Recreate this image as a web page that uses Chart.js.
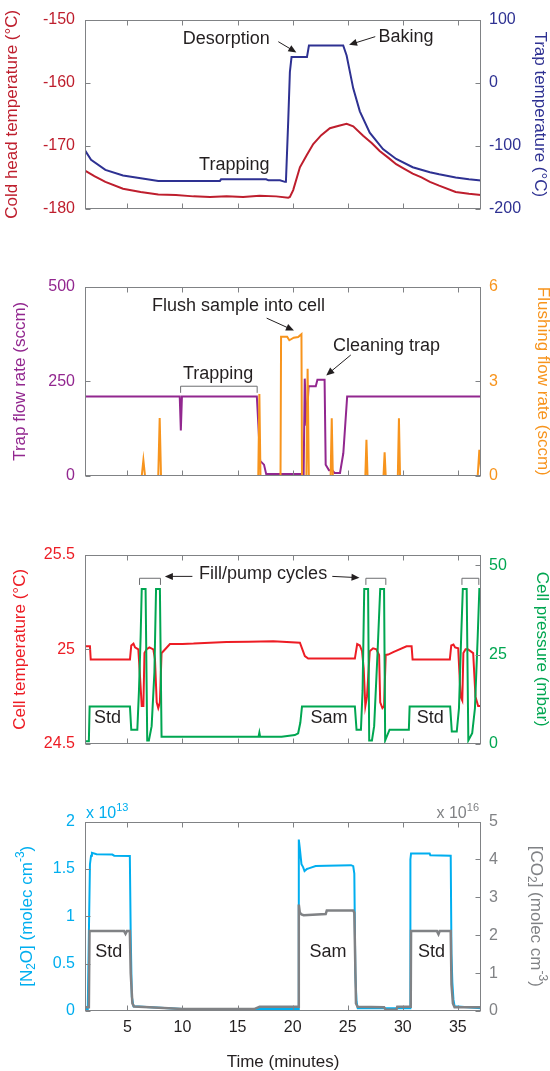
<!DOCTYPE html>
<html>
<head>
<meta charset="utf-8">
<script src="https://cdn.jsdelivr.net/npm/chart.js@4.4.1/dist/chart.umd.min.js"></script>
<style>
  body { margin: 0; background: #fff; width: 550px; height: 1071px; overflow: hidden; position: relative; }
  canvas { position: absolute; left: 0; }
</style>
</head>
<body>
<canvas id="p1" width="550" height="267" style="top:0px"></canvas>
<canvas id="p2" width="550" height="267" style="top:267px"></canvas>
<canvas id="p3" width="550" height="267" style="top:535px"></canvas>
<canvas id="p4" width="550" height="269" style="top:802px"></canvas>
<script>
const FONT = "'Liberation Sans', Arial, Helvetica, sans-serif";
const xMin = 1.15, xMax = 37.1;
const xTicks = [5, 10, 15, 20, 25, 30, 35];

// panel 1: cold head (left axis) and trap temperature (right axis)
const coldHeadT = [1.15, 2.0, 3.0, 4.6, 6.2, 7.8, 9.4, 11.0, 12.5, 14.0, 15.5, 17.0, 18.5, 19.6, 19.75, 20.05, 20.66, 21.3, 21.87, 22.6, 23.38, 24.2, 24.9, 25.5, 26.4, 27.2, 27.9, 28.7, 29.4, 30.1, 30.9, 31.7, 32.46, 33.3, 34.8, 36.0, 37.1];
const coldHeadV = [-173.9, -174.8, -175.7, -176.8, -177.3, -177.7, -177.8, -178.0, -178.1, -178.0, -178.1, -177.9, -178.0, -178.2, -178.1, -177.0, -173.4, -171.4, -169.7, -168.3, -167.2, -166.8, -166.5, -166.9, -168.4, -169.6, -170.8, -171.9, -172.9, -173.6, -174.4, -175.0, -175.7, -176.3, -177.3, -177.6, -177.8];
const trapTempT = [1.15, 1.7, 3.0, 4.6, 6.8, 7.8, 13.4, 13.5, 17.6, 17.8, 18.85, 19.3, 19.39, 19.6, 19.75, 19.9, 21.3, 21.48, 24.59, 24.9, 25.5, 26.1, 27.0, 28.2, 29.4, 30.9, 32.46, 33.3, 34.8, 36.0, 37.1];
const trapTempV = [-107, -122, -138, -147, -153, -155.5, -155.5, -153, -153, -154.6, -154.6, -157, -157, -60, 17, 40.6, 40.6, 58.9, 58.9, 43.2, -8.9, -45.3, -79.2, -105, -120.8, -133.9, -141.7, -145, -150, -153, -155];

// panel 2: trap flow (left) and flushing flow (right)
const trapFlowT = [1.15, 9.75, 9.85, 9.95, 16.75, 16.95, 17.05, 17.4, 17.6, 21.0, 21.1, 21.25, 21.45, 22.1, 22.25, 22.9, 23.0, 23.3, 23.6, 23.8, 24.3, 24.6, 24.95, 37.1];
const trapFlowV = [210, 210, 120, 210, 210, 100, 40, 30, 5, 5, 257, 133, 237, 237, 254, 254, 30, 15, 15, 8, 8, 60, 210, 210];
const flushT = [1.15, 6.3, 6.45, 6.6, 7.8, 7.93, 8.05, 16.88, 16.98, 17.08, 18.9, 18.95, 19.5, 19.7, 20.1, 20.5, 20.8, 20.85, 21.25, 21.36, 21.47, 23.45, 23.55, 23.65, 26.6, 26.7, 26.8, 28.25, 28.35, 28.45, 29.55, 29.65, 29.75, 36.8, 36.95, 37.1];
const flushV = [0, 0, 0.5, 0, 0, 1.84, 0, 0, 2.6, 0, 0, 4.41, 4.41, 4.3, 4.38, 4.4, 4.49, 0, 0, 3.4, 0, 0, 1.83, 0, 0, 1.15, 0, 0, 0.75, 0, 0, 1.83, 0, 0, 0.83, 0.2];

// panel 3: cell temperature (left) and cell pressure (right)
const cellTempT = [1.15, 1.6, 1.67, 5.23, 5.35, 5.55, 5.69, 5.99, 6.1, 6.3, 6.45, 6.55, 6.75, 7.0, 7.35, 7.5, 7.66, 7.8, 7.95, 8.1, 8.26, 8.86, 10, 11, 12.5, 14, 16, 18.24, 20.66, 21.11, 21.41, 25.65, 25.86, 26.1, 26.3, 26.45, 26.6, 26.75, 27.0, 27.3, 27.6, 27.85, 27.95, 28.15, 28.3, 28.45, 28.67, 29.13, 30.34, 30.8, 30.89, 34.27, 34.4, 34.6, 34.75, 35.03, 35.25, 35.4, 35.5, 35.7, 35.9, 36.39, 36.6, 36.84, 37.1];
const cellTempV = [25.016, 25.016, 24.946, 24.946, 25.02, 25.03, 25.01, 25.0, 24.9, 24.7, 24.7, 24.98, 25.0, 25.01, 25.0, 24.95, 24.72, 24.69, 24.72, 24.98, 24.99, 25.028, 25.028, 25.03, 25.035, 25.038, 25.04, 25.042, 25.035, 24.964, 24.951, 24.951, 25.028, 25.02, 24.99, 24.9, 24.7, 24.75, 24.99, 25.005, 25.0, 24.97, 24.72, 24.69, 24.7, 24.97, 24.972, 24.985, 25.016, 25.016, 24.946, 24.946, 25.02, 25.025, 25.01, 25.005, 24.75, 24.73, 24.98, 25.0, 25.0, 24.98, 24.75, 24.7, 24.7];
const cellPresT = [1.15, 1.5, 1.57, 5.23, 5.35, 5.8, 5.9, 6.05, 6.2, 6.3, 6.65, 6.8, 6.95, 7.2, 7.45, 7.6, 7.95, 8.1, 16.9, 16.98, 17.05, 19.0, 20.2, 20.5, 20.7, 20.85, 25.65, 25.8, 26.2, 26.35, 26.5, 26.85, 26.95, 27.2, 27.4, 27.7, 27.95, 28.3, 28.4, 28.8, 30.55, 30.62, 34.3, 34.45, 34.9, 35.1, 35.3, 35.45, 35.8, 35.95, 36.3, 36.55, 36.8, 36.95, 37.1];
const cellPresV = [0.8, 0.8, 10.5, 10.5, 4, 4, 4, 15, 30, 43.4, 43.4, 1, 1, 5, 20, 43.4, 43.4, 2, 2, 3.2, 2, 2, 2.5, 3, 6, 10.5, 10.5, 4, 4, 15, 43.4, 43.4, 1, 1, 5, 25, 43.4, 43.4, 1, 4, 4, 10.5, 10.5, 3.5, 3.5, 10, 30, 43.4, 43.4, 1, 3, 10, 30, 43.4, 43.4];

// panel 4: N2O (left, x1e13) and CO2 (right, x1e16)
const n2oT = [1.15, 1.4, 1.5, 1.6, 1.7, 1.78, 2.2, 3.63, 3.8, 5.22, 5.3, 5.4, 5.55, 10, 20.5, 20.56, 20.65, 20.8, 20.95, 21.08, 21.3, 21.46, 22.09, 23.05, 25.3, 25.5, 25.6, 25.69, 25.8, 25.91, 30.66, 30.69, 30.75, 32.44, 32.5, 34.35, 34.42, 34.5, 34.6, 34.7, 37.1];
const n2oV = [0.02, 0.02, 0.8, 1.55, 1.64, 1.67, 1.655, 1.652, 1.64, 1.638, 0.8, 0.15, 0.05, 0.02, 0.02, 1.81, 1.72, 1.55, 1.52, 1.478, 1.5, 1.506, 1.53, 1.535, 1.54, 1.53, 1.45, 0.4, 0.1, 0.03, 0.03, 1.6, 1.663, 1.663, 1.645, 1.64, 0.6, 0.3, 0.12, 0.05, 0.03];
const co2T = [1.15, 1.5, 1.56, 4.7, 4.83, 4.95, 5.22, 5.3, 5.45, 5.6, 7, 10, 16.5, 17, 20.5, 20.56, 20.65, 20.8, 21, 23.0, 23.1, 25.5, 25.6, 25.75, 25.9, 28.3, 28.46, 29.42, 29.5, 30.72, 30.75, 33.1, 33.24, 33.35, 34.35, 34.42, 34.55, 34.7, 37.1];
const co2V = [0.1, 0.1, 2.11, 2.11, 2.04, 2.11, 2.11, 1.0, 0.2, 0.12, 0.1, 0.05, 0.05, 0.11, 0.11, 2.81, 2.6, 2.55, 2.53, 2.56, 2.65, 2.65, 2.6, 0.2, 0.11, 0.1, 0.03, 0.03, 0.11, 0.11, 2.11, 2.11, 2.03, 2.11, 2.11, 0.7, 0.2, 0.1, 0.1];

const BOX = '#808285';
const INK = '#231f20';
const TICK_SIZE = 16, TITLE_SIZE = 17, NOTE_SIZE = 18;

function pts(ts, vs) { return ts.map((t, i) => ({ x: t, y: vs[i] })); }

function drawRich(ctx, segs, cx, cy, rot, color, size, align) {
  ctx.save();
  ctx.translate(cx, cy);
  ctx.rotate(rot);
  ctx.fillStyle = color;
  ctx.textBaseline = 'middle';
  ctx.textAlign = 'left';
  const small = Math.round(size * 0.68);
  let w = 0;
  const parts = segs.map(s => {
    const f = ((s.sub || s.sup) ? small : size) + 'px ' + FONT;
    ctx.font = f;
    const mw = ctx.measureText(s.t).width;
    w += mw;
    return { s, f, mw };
  });
  let x = align === 'left' ? 0 : align === 'right' ? -w : -w / 2;
  parts.forEach(p => {
    ctx.font = p.f;
    const dy = p.s.sub ? size * 0.3 : p.s.sup ? -size * 0.38 : 0;
    ctx.fillText(p.s.t, x, dy);
    x += p.mw;
  });
  ctx.restore();
}

function arrow(ctx, x1, y1, x2, y2) {
  const a = Math.atan2(y2 - y1, x2 - x1);
  const L = 8, W = 3.5;
  ctx.beginPath();
  ctx.moveTo(x1, y1);
  ctx.lineTo(x2 - Math.cos(a) * L * 0.8, y2 - Math.sin(a) * L * 0.8);
  ctx.stroke();
  ctx.beginPath();
  ctx.moveTo(x2, y2);
  ctx.lineTo(x2 - Math.cos(a) * L + Math.sin(a) * W, y2 - Math.sin(a) * L - Math.cos(a) * W);
  ctx.lineTo(x2 - Math.cos(a) * L - Math.sin(a) * W, y2 - Math.sin(a) * L + Math.cos(a) * W);
  ctx.closePath();
  ctx.fill();
}

function drawDeco(chart, cfg) {
  const { ctx, chartArea: a, scales } = chart;
  const x = scales.x, yl = scales.yL, yr = scales.yR;
  ctx.save();
  // box and inward ticks
  ctx.strokeStyle = BOX;
  ctx.lineWidth = 1;
  const L = Math.round(a.left) + 0.5, R = Math.round(a.right) - 0.5;
  const T = Math.round(a.top) + 0.5, B = Math.round(a.bottom) - 0.5;
  ctx.strokeRect(L, T, R - L, B - T);
  ctx.beginPath();
  xTicks.forEach(v => {
    const px = Math.round(x.getPixelForValue(v)) + 0.5;
    ctx.moveTo(px, B); ctx.lineTo(px, B - 5);
    ctx.moveTo(px, T); ctx.lineTo(px, T + 5);
  });
  yl.ticks.forEach(tk => {
    const py = Math.round(yl.getPixelForValue(tk.value)) + 0.5;
    ctx.moveTo(L, py); ctx.lineTo(L + 5, py);
  });
  yr.ticks.forEach(tk => {
    const py = Math.round(yr.getPixelForValue(tk.value)) + 0.5;
    ctx.moveTo(R, py); ctx.lineTo(R - 5, py);
  });
  ctx.stroke();

  // axis titles
  const midY = (a.top + a.bottom) / 2;
  drawRich(ctx, cfg.leftTitle.segs, cfg.leftTitle.x, midY, -Math.PI / 2, cfg.leftColor, TITLE_SIZE);
  drawRich(ctx, cfg.rightTitle.segs, cfg.rightTitle.x, midY, Math.PI / 2, cfg.rightColor, TITLE_SIZE);

  // multipliers
  (cfg.multipliers || []).forEach(m => {
    drawRich(ctx, [{ t: 'x 10' }, { t: m.exp, sup: true }], m.x, a.top - 8, 0, m.color, 16, m.align);
  });

  // brackets
  ctx.strokeStyle = '#6d6e71';
  ctx.lineWidth = 1;
  (cfg.brackets || []).forEach(b => {
    const x1 = x.getPixelForValue(b.t1), x2 = x.getPixelForValue(b.t2);
    const y0 = yl.getPixelForValue(b.v), y1 = yl.getPixelForValue(b.vEnd);
    ctx.beginPath();
    ctx.moveTo(x1, y1); ctx.lineTo(x1, y0); ctx.lineTo(x2, y0); ctx.lineTo(x2, y1);
    ctx.stroke();
  });

  // arrows
  ctx.strokeStyle = INK;
  ctx.fillStyle = INK;
  (cfg.arrows || []).forEach(ar => {
    arrow(ctx, x.getPixelForValue(ar.from[0]), yl.getPixelForValue(ar.from[1]),
      x.getPixelForValue(ar.to[0]), yl.getPixelForValue(ar.to[1]));
  });

  // labels
  (cfg.labels || []).forEach(lb => {
    drawRich(ctx, [{ t: lb.text }], x.getPixelForValue(lb.t), yl.getPixelForValue(lb.v), 0, INK, NOTE_SIZE);
  });
  ctx.restore();
}

function makePanel(id, cfg) {
  return new Chart(document.getElementById(id), {
    type: 'line',
    data: { datasets: cfg.datasets },
    options: {
      responsive: false,
      animation: false,
      layout: { padding: { top: 17, left: 0, right: 0, bottom: 0 } },
      plugins: { legend: { display: false }, tooltip: { enabled: false } },
      elements: { point: { radius: 0 }, line: { borderWidth: 2, tension: 0 } },
      scales: {
        x: {
          type: 'linear', min: xMin, max: xMax,
          afterBuildTicks: s => { s.ticks = xTicks.map(v => ({ value: v })); },
          grid: { display: false, drawTicks: false },
          border: { display: false },
          ticks: { display: cfg.xLabels, color: INK, font: { family: FONT, size: TICK_SIZE }, padding: 7 },
          title: {
            display: cfg.xLabels, text: 'Time (minutes)', color: INK,
            font: { family: FONT, size: TITLE_SIZE, lineHeight: 1 }, padding: { top: 0, bottom: 0 }
          },
          afterFit: s => { s.height = cfg.bottom; }
        },
        yL: {
          position: 'left', min: cfg.leftMin, max: cfg.leftMax,
          afterBuildTicks: s => { s.ticks = cfg.leftTicks.map(v => ({ value: v })); },
          grid: { display: false, drawTicks: false },
          border: { display: false },
          ticks: { color: cfg.leftColor, font: { family: FONT, size: TICK_SIZE }, padding: 10, callback: v => String(v) },
          afterFit: s => { s.width = 85; }
        },
        yR: {
          position: 'right', min: cfg.rightMin, max: cfg.rightMax,
          afterBuildTicks: s => { s.ticks = cfg.rightTicks.map(v => ({ value: v })); },
          grid: { display: false, drawTicks: false },
          border: { display: false },
          ticks: { color: cfg.rightColor, font: { family: FONT, size: TICK_SIZE }, padding: 8, callback: v => String(v) },
          afterFit: s => { s.width = 69; }
        }
      }
    },
    plugins: [{ id: 'deco', afterDraw: ch => drawDeco(ch, cfg) }]
  });
}

// Panel 1
makePanel('p1', {
  datasets: [
    { data: pts(trapTempT, trapTempV), yAxisID: 'yR', borderColor: '#2e3192' },
    { data: pts(coldHeadT, coldHeadV), yAxisID: 'yL', borderColor: '#be1e2d' }
  ],
  xLabels: false, bottom: 58,
  leftMin: -180, leftMax: -150, leftTicks: [-180, -170, -160, -150], leftColor: '#be1e2d',
  rightMin: -200, rightMax: 100, rightTicks: [-200, -100, 0, 100], rightColor: '#2e3192',
  leftTitle: { segs: [{ t: 'Cold head temperature (°C)' }], x: 12 },
  rightTitle: { segs: [{ t: 'Trap temperature (°C)' }], x: 540 },
  labels: [
    { t: 13.97, v: -153.1, text: 'Desorption' },
    { t: 30.3, v: -152.7, text: 'Baking' },
    { t: 14.7, v: -173.0, text: 'Trapping' }
  ],
  arrows: [
    { from: [18.7, -153.5], to: [20.34, -155.2] },
    { from: [27.5, -152.7], to: [25.12, -154.0] }
  ]
});

// Panel 2
makePanel('p2', {
  datasets: [
    { data: pts(flushT, flushV), yAxisID: 'yR', borderColor: '#f7941d' },
    { data: pts(trapFlowT, trapFlowV), yAxisID: 'yL', borderColor: '#92278f' }
  ],
  xLabels: false, bottom: 58,
  leftMin: 0, leftMax: 500, leftTicks: [0, 250, 500], leftColor: '#92278f',
  rightMin: 0, rightMax: 6, rightTicks: [0, 3, 6], rightColor: '#f7941d',
  leftTitle: { segs: [{ t: 'Trap flow rate (sccm)' }], x: 20 },
  rightTitle: { segs: [{ t: 'Flushing flow rate (sccm)' }], x: 543 },
  labels: [
    { t: 15.09, v: 449.7, text: 'Flush sample into cell' },
    { t: 28.53, v: 343.8, text: 'Cleaning trap' },
    { t: 13.24, v: 269, text: 'Trapping' }
  ],
  arrows: [
    { from: [17.64, 416.7], to: [20.12, 384] },
    { from: [25.28, 319.5], to: [23.05, 265.6] }
  ],
  brackets: [{ t1: 9.83, t2: 16.78, v: 237, vEnd: 219.5 }]
});

// Panel 3
makePanel('p3', {
  datasets: [
    { data: pts(cellPresT, cellPresV), yAxisID: 'yR', borderColor: '#00a651' },
    { data: pts(cellTempT, cellTempV), yAxisID: 'yL', borderColor: '#ed1c24' }
  ],
  xLabels: false, bottom: 58,
  leftMin: 24.5, leftMax: 25.5, leftTicks: [24.5, 25, 25.5], leftColor: '#ed1c24',
  rightMin: 0, rightMax: 53, rightTicks: [0, 25, 50], rightColor: '#00a651',
  leftTitle: { segs: [{ t: 'Cell temperature (°C)' }], x: 20 },
  rightTitle: { segs: [{ t: 'Cell pressure (mbar)' }], x: 542 },
  labels: [
    { t: 17.32, v: 25.40, text: 'Fill/pump cycles' },
    { t: 3.2, v: 24.635, text: 'Std' },
    { t: 23.3, v: 24.635, text: 'Sam' },
    { t: 32.5, v: 24.635, text: 'Std' }
  ],
  arrows: [
    { from: [10.9, 25.385], to: [8.4, 25.385] },
    { from: [23.6, 25.385], to: [26.07, 25.378] }
  ],
  brackets: [
    { t1: 6.1, t2: 8.0, v: 25.375, vEnd: 25.34 },
    { t1: 26.65, t2: 28.46, v: 25.375, vEnd: 25.34 },
    { t1: 35.37, t2: 36.9, v: 25.375, vEnd: 25.34 }
  ]
});

// Panel 4
makePanel('p4', {
  datasets: [
    { data: pts(co2T, co2V), yAxisID: 'yR', borderColor: '#808285', borderWidth: 2.5 },
    { data: pts(n2oT, n2oV), yAxisID: 'yL', borderColor: '#00aeef' }
  ],
  xLabels: true, bottom: 60,
  leftMin: 0, leftMax: 2, leftTicks: [0, 0.5, 1, 1.5, 2], leftColor: '#00aeef',
  rightMin: 0, rightMax: 5, rightTicks: [0, 1, 2, 3, 4, 5], rightColor: '#808285',
  leftTitle: { segs: [{ t: '[N' }, { t: '2', sub: true }, { t: 'O] (molec cm' }, { t: '-3', sup: true }, { t: ')' }], x: 27 },
  rightTitle: { segs: [{ t: '[CO' }, { t: '2', sub: true }, { t: '] (molec cm' }, { t: '-3', sup: true }, { t: ')' }], x: 536 },
  multipliers: [
    { exp: '13', x: 86, color: '#00aeef', align: 'left' },
    { exp: '16', x: 479, color: '#808285', align: 'right' }
  ],
  labels: [
    { t: 3.3, v: 0.618, text: 'Std' },
    { t: 23.2, v: 0.618, text: 'Sam' },
    { t: 32.6, v: 0.618, text: 'Std' }
  ]
});
</script>
</body>
</html>
